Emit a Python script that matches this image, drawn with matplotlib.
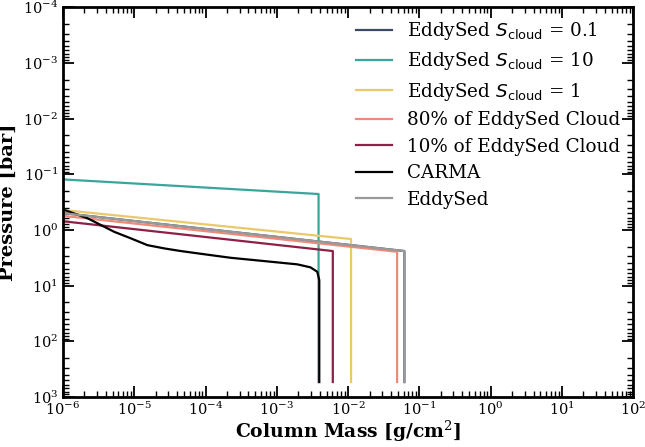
import matplotlib.pyplot as plt
import numpy as np

plt.rcParams['font.family'] = 'DejaVu Serif'
plt.rcParams['mathtext.fontset'] = 'dejavusans'

# column mass [g/cm^2] and pressure [bar] for each cloud profile
labels = [r"EddySed $S_{\rm cloud}$ = 0.1", r"EddySed $S_{\rm cloud}$ = 10",
          r"EddySed $S_{\rm cloud}$ = 1", "80% of EddySed Cloud",
          "10% of EddySed Cloud", "CARMA", "EddySed"]
colors = ["#3b4a63", "#3aa59a", "#ecc86a", "#ee8a78", "#8e1f45", "black", "#999999"]

x_s01 = [1e-6, 0.0616, 0.0616]
p_s01 = [0.50, 2.40, 540]
x_s10 = [1e-6, 0.00385, 0.00385]
p_s10 = [0.124, 0.227, 540]
x_s1 = [1e-6, 0.011, 0.011]
p_s1 = [0.44, 1.46, 540]
x_80 = [1e-6, 0.0487, 0.0487]
p_80 = [0.56, 2.47, 540]
x_10 = [1e-6, 0.0061, 0.0061]
p_10 = [0.70, 2.40, 540]
x_carma = [1e-6, 2.22e-6, 5.2e-6, 8.95e-6, 1.53e-5, 2.63e-5, 4.5e-5, 7.76e-5,
           2.25e-4, 6.6e-4, 1.94e-3, 2.97e-3, 3.69e-3, 3.94e-3, 3.94e-3]
p_carma = [0.43, 0.62, 1.08, 1.42, 1.88, 2.15, 2.40, 2.64, 3.17, 3.63, 4.16,
           4.71, 5.65, 7.96, 540]
x_eddy = [1e-6, 0.0616, 0.0616]
p_eddy = [0.50, 2.40, 540]

xs = [x_s01, x_s10, x_s1, x_80, x_10, x_carma, x_eddy]
ps = [p_s01, p_s10, p_s1, p_80, p_10, p_carma, p_eddy]

fig = plt.figure(figsize=(6.45, 4.47), dpi=100)
ax = fig.add_axes([0.0977, 0.112, 0.884, 0.872])

for x, p, c, lab in zip(xs, ps, colors, labels):
    ax.plot(x, p, color=c, lw=1.6, label=lab)

ax.set_xscale('log')
ax.set_yscale('log')
ax.set_xlim(1e-6, 1e2)
ax.set_ylim(1e3, 1e-4)
ax.set_xticks([10.0**k for k in range(-6, 3)])
ax.set_yticks([10.0**k for k in range(-4, 4)])

ax.tick_params(which='both', direction='in', top=True, right=True, labelsize=10.5)
ax.tick_params(axis='x', pad=3)
ax.tick_params(which='major', length=8, width=1.3)
ax.tick_params(which='minor', length=4, width=1)
for s in ax.spines.values():
    s.set_linewidth(2)

ax.set_xlabel("Column Mass [g/cm$^2$]", fontsize=13.5, fontweight='bold',
              math_fontfamily='dejavuserif', labelpad=0)
ax.set_ylabel("Pressure [bar]", fontsize=14, fontweight='bold')

ax.legend(loc='upper right', frameon=False, fontsize=13.2, handlelength=2.0,
          labelspacing=0.46, borderaxespad=0.3)

fig.savefig("out.png", dpi=100)
